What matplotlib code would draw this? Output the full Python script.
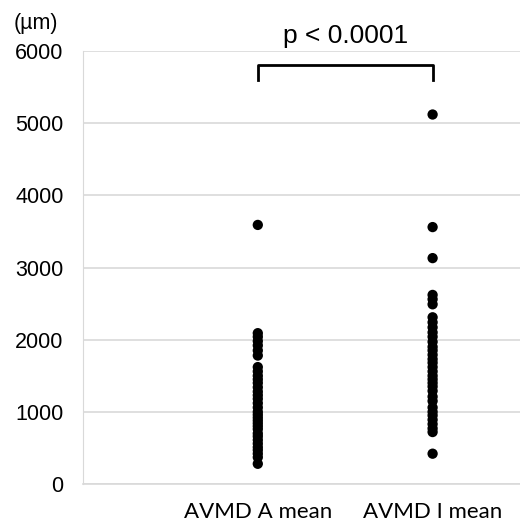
import matplotlib.pyplot as plt
import numpy as np

categories = ['AVMD A mean', 'AVMD I mean']
avmd_a = [3590, 2090, 2040, 1980, 1920, 1850, 1780, 1620, 1560, 1500, 1450,
          1400, 1340, 1280, 1230, 1180, 1120, 1060, 1000, 960, 920, 880, 840,
          800, 760, 700, 660, 610, 560, 510, 470, 420, 370, 280]
avmd_i = [5120, 3560, 3130, 2620, 2560, 2490, 2310, 2240, 2170, 2100, 2040,
          1970, 1900, 1850, 1790, 1730, 1680, 1620, 1560, 1500, 1450, 1400,
          1350, 1290, 1210, 1150, 1060, 1000, 950, 890, 830, 770, 720, 420]
p_text = 'p < 0.0001'

fig = plt.figure(figsize=(5.2, 5.25), dpi=100)
ax = fig.add_axes([83 / 520, 41 / 525, 1 - 83 / 520, 433 / 525])

for i, vals in enumerate([avmd_a, avmd_i]):
    ax.scatter(np.full(len(vals), i + 1), vals, s=55, color='black',
               edgecolors='none', zorder=3)

ax.set_xlim(0, 2.5)
ax.set_ylim(0, 6000)
ax.set_yticks(range(0, 6001, 1000))
ax.set_xticks([1, 2])
ax.set_xticklabels(categories, fontsize=16, family='Lato')
ax.tick_params(axis='x', length=0, pad=13)
ax.tick_params(axis='y', length=0, pad=14)
for lab in ax.get_yticklabels():
    lab.set_fontsize(15.5)
    lab.set_family('Liberation Sans')

ax.grid(axis='y', color='#d9d9d9', linewidth=1.2)
ax.set_axisbelow(True)
for s in ['top', 'right']:
    ax.spines[s].set_visible(False)
ax.spines['left'].set_color('#d9d9d9')
ax.spines['bottom'].set_color('#d9d9d9')
ax.spines['bottom'].set_linewidth(1.2)

# significance bracket
ax.plot([1, 1, 2, 2], [5600, 5806, 5806, 5600], color='black', lw=2,
        clip_on=False, zorder=4)
ax.text(1.5, 6111, p_text, ha='center', va='baseline', fontsize=19,
        family='Liberation Sans')

fig.text(14 / 520, 1 - 29 / 525, '(µm)', fontsize=15.5, va='baseline',
         family='Liberation Sans')

plt.savefig('out.png', dpi=100)
